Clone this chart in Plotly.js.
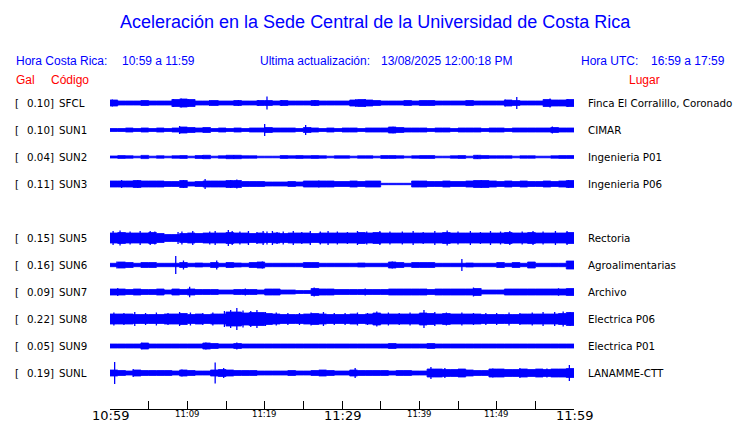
<!DOCTYPE html>
<html>
<head>
<meta charset="utf-8">
<script src="https://cdn.plot.ly/plotly-3.0.1.min.js"></script>
<style>html,body{margin:0;padding:0;background:#fff;}#chart{width:740px;height:423px;}</style>
</head>
<body>
<div id="chart"></div>
<script>
// ---------- DATA ----------
const stationCodes = ['SFCL','SUN1','SUN2','SUN3','SUN5','SUN6','SUN7','SUN8','SUN9','SUNL'];
const galMax = ['0.10','0.10','0.04','0.11','0.15','0.16','0.09','0.22','0.05','0.19'];
const places = ['Finca El Corralillo, Coronado','CIMAR','Ingenieria P01','Ingenieria P06','Rectoria',
  'Agroalimentarias','Archivo','Electrica P06','Electrica P01','LANAMME-CTT'];

// half-amplitude envelope per minute (10:59 -> 11:59), one value per minute
const envSFCL = [3,2,2,2,2.5,2,2,2,3.5,4,3.5,2,2,2.5,2,2,2.5,2,2,2.5,2.5,2,2.5,2,2,2,2.5,2,2,2,2,3,3.5,3,2.5,2,2,2,2.5,2,2.5,2.5,2,2,2,2,2.5,2,2,2,2,3,2.5,2,2,2,3.5,3,3,3.5];
const envSUN1 = [1.5,1.5,2,1.5,2,1.5,2,1.5,2,3,2.5,2,2.5,1.5,2,1.5,2,1.5,2,2,2.5,2,2,2,1.5,2.5,2,1.5,2,1.5,2,2,1.5,2,2,2,3,2.5,2,2,2,1.5,2,2,1.5,2,2,2,1.5,2,2,1.5,2,2,2,2,2,2.5,2,2];
const envSUN2 = [1,1.4,1.2,0.8,1.6,0.8,1.2,0.8,1.2,1.4,0.8,1.4,1.7,0.8,1.2,1.7,1.7,1.2,1.2,0.8,0.8,0.8,1.4,1.2,1.4,1.2,1.4,1.2,0.8,1.2,1.2,0.8,1.2,1.2,0.8,1.4,1.4,1.2,0.8,1.2,1.4,1.4,0.8,0.8,1.2,1.4,0.8,1.7,1.4,1.2,1.2,1.2,0.8,1.2,1.2,0.8,0.8,1.2,1.4,1.4];
const envSUN3 = [3,3,3,3.5,3,3,3,2.5,2.5,3.5,2,2.5,3,3,3,3.5,3.5,2.5,2.5,2.5,2,2,2,2.5,2,3,3,3,3,2.5,2.5,3,2.5,3,3,0.7,0.7,0.7,0.7,3,3,2.5,2.5,3,2.5,2.5,3,3.5,3.5,3,2.5,3,2.5,3,2.5,2.5,3,2.5,3,3.5];
const envSUN5 = [5,5.5,5,5,5,5.5,4.5,3.5,3.5,4.5,5,4.5,5,5,5,5.5,5,5,4.5,5,4.5,5,4.5,5,5,5,4.5,5,5,5,5,5,5.5,5,5.5,5,5,5,5,5,5,5,5,5.5,5,5,5,5,5,5,5,5.5,5,5,5.5,5,5,5,5,5.5];
const envSUN6 = [1.7,3,2.5,1.7,2.5,2.5,1.7,1.7,1.7,2.5,1.7,2,1.7,2.5,1.7,2.5,2,1.7,2.5,3,1.7,1.7,1.7,1.7,1.7,2.5,2.5,1.7,1.7,1.7,1.7,1.7,2,1.7,1.7,1.7,3,2.5,1.7,2.5,2.5,2.5,1.7,1.7,1.7,1.7,2,1.7,1.7,1.7,2.5,1.7,2.5,1.7,3,1.7,1.7,1.7,1.7,4];
const envSUN7 = [3,3,2.5,3,2.5,2.5,3,2,3,2.5,3,2.5,2.5,2.5,2,2,2.5,2.5,2.5,2,3,3,2,2,1.5,1.5,3.5,3,3,2.5,2.5,2.5,2.5,2.5,2.5,2.5,3,3,3,3,3,2.5,3,3,3,3,3,3.5,2,2,2,3,3,3,3,3,3,3,3,3.5];
const envSUN8 = [5,5,5,4.5,4.5,4.5,4.5,5,5,5.5,4.5,5,4.5,5,5,7,7,6,6.5,6.5,5.5,5,4.5,4.5,4.5,5,5.5,5,4.5,4.5,4.5,5,4.5,5,6,5,5,5,5,5,6,5.5,5,5.5,5,5,5,5,4.5,4.5,4.5,4.5,4.5,5,5,5,5,5,5.5,6.5];
const envSUN9 = [2,2,2,2,3,2,2,2,2,2,2,2,3,2.5,2,2,2.5,2,2,2,2,2,2,2,2,2,2,2,2,2,2,2,2,2,2,2,2.5,2,2,2,2,2.5,2,2,2,2,2,2,2,2,2,2,2,2,2,2,2,2,2,2];
const envSUNL = [3,2.5,2,3,2.5,2.5,2.5,2.5,2,3,2.5,2,2,3,3.5,3,2.5,2.5,2.5,2,2,2,2,2.5,2,2,2.5,3,2.5,2,2,3,2.5,2.5,2.5,2.5,2,2.5,2.5,2,2,4,4,3.5,3.5,4,3,2.5,2.5,4,4,3.5,3.5,4,3.5,4,3.5,4,4,4.5];

// isolated spikes: time (minutes after 10:59) and half-amplitude
const spkTimeSFCL = [0.3,8.2,9.2,10.1,12.9,16.6,19.2,20.3,22.2,26.5,31.8,33.0,51.1,52.6,56.9,59.2];
const spkAmpSFCL  = [3.5,4,4.5,4,3,3,3,6.5,3,3,4,4,3.5,6,4.5,4];
const spkTimeSUN1 = [9.0,20.0,25.3,36.6,57.2],  spkAmpSUN1 = [4,6,5,3.2,3.5];
const spkTimeSUN2 = [12.0,16.0,47.5],           spkAmpSUN2 = [2,2,2];
const spkTimeSUN3 = [1.5,3.6,9.5,12.3,15.6,16.4,27.0,48.0,59.3];
const spkAmpSUN3  = [4,4,4,5,4,4.5,3.5,4,4];
const spkTimeSUN5 = [0.4,1.3,2.6,3.9,5.2,5.8,8.8,9.3,10.7,12.9,13.6,15.3,15.8,16.8,17.9,19.0,19.8,20.3,21.0,21.6,
  22.4,23.7,24.8,25.9,27.2,28.2,29.4,30.7,32.0,33.2,34.9,36.2,37.8,39.2,40.5,42.0,43.6,45.0,46.6,47.9,49.2,50.5,51.7,53.3,54.7,56.0,57.6,59.1];
const spkAmpSUN5  = [7,7.5,6.5,7,7,6.5,6,6.5,7,6.5,7,8,7,6.5,7,6,7,6.5,7,6,
  6.5,7,6,7,6.5,7,6.5,6,7,6.5,7,6.5,6.5,7,6,7,7.5,6.5,7,6,7,6.5,7,6.5,7,6.5,7,7];
const spkTimeSUN6 = [0.9,8.5,9.5,13.8,19.7,36.5,45.5,54.6,59.4], spkAmpSUN6 = [3.5,9,4.5,4.5,3.5,3.5,6,3,4];
const spkTimeSUN7 = [1.0,10.3,17.5,26.4,33.0,47.0,58.0],  spkAmpSUN7 = [4,5.3,3.5,4.5,3.5,4.5,3.8];
const spkTimeSUN8 = [0.5,1.8,3.2,4.6,6.0,7.5,9.0,10.4,12.0,13.3,14.8,15.6,16.4,17.2,18.2,19.0,20.1,21.5,23.0,24.5,26.0,27.6,
  29.0,30.4,32.0,33.3,34.5,36.0,37.4,38.8,40.6,42.0,43.5,45.5,47.0,48.6,50.0,51.6,53.0,54.6,56.0,57.5,58.6,59.5];
const spkAmpSUN8  = [6.5,6,7,6,6.5,6,7,6.5,6,6.5,8,9,11,8.5,8,9,7,6.5,6,6,6.5,7,
  6,6,6.5,6,7.5,6.5,6,6.5,9,7,6.5,6.5,6,6,6,6.5,6,6.5,7,7,7.5,7];
const spkTimeSUN9 = [4.1,12.4,16.4],            spkAmpSUN9 = [3.2,3.5,3.5];
const spkTimeSUNL = [0.6,3.0,9.3,13.6,14.7,31.7,41.5,43.3,49.5,53.0,56.5,59.4], spkAmpSUNL = [11,4,3.5,10.5,5,5,6,5,4.5,5,4.5,8];

const tickMinutes = [0,5,10,15,20,25,30,35,40,45,50,55,60];
const tickLabels  = ['10:59','','11:09','','11:19','','11:29','','11:39','','11:49','','11:59'];
const bigLabels   = ['10:59','11:29','11:59'];

const envelopes = [envSFCL,envSUN1,envSUN2,envSUN3,envSUN5,envSUN6,envSUN7,envSUN8,envSUN9,envSUNL];
const spikeTimes = [spkTimeSFCL,spkTimeSUN1,spkTimeSUN2,spkTimeSUN3,spkTimeSUN5,spkTimeSUN6,spkTimeSUN7,spkTimeSUN8,spkTimeSUN9,spkTimeSUNL];
const spikeAmps  = [spkAmpSFCL,spkAmpSUN1,spkAmpSUN2,spkAmpSUN3,spkAmpSUN5,spkAmpSUN6,spkAmpSUN7,spkAmpSUN8,spkAmpSUN9,spkAmpSUNL];

// ---------- LAYOUT HELPERS ----------
const BLUE = '#0000ff';
const PL = 110, PR = 574, PT = 88, PB = 409;
const rowSlot = [0,1,2,3,5,6,7,8,9,10];   // SUN4 row left empty
const rowTop = 103, rowGap = 27;
function rowCenter(i){ return rowTop + rowSlot[i]*rowGap; }
function px(x){ return (x-PL)/(PR-PL); }
function py(y){ return (PB-y)/(PB-PT); }
function note(x,y,text,opt){
  return Object.assign({xref:'paper',yref:'paper',x:px(x),y:py(y),text:text,showarrow:false,
    xanchor:'left',yanchor:'middle',borderpad:0,
    font:{family:'DejaVu Sans',size:10.3,color:'#000'}},opt||{});
}

const traces = [];
envelopes.forEach((env,i)=>{
  const c = rowCenter(i);
  const xs = env.map((_,k)=>k).concat([env.length]);
  const full = env.concat([env[env.length-1]]);
  traces.push({x:xs,y:full.map(a=>c+a),mode:'lines',line:{shape:'hv',width:0.8,color:BLUE},hoverinfo:'skip',showlegend:false});
  traces.push({x:xs,y:full.map(a=>c-a),mode:'lines',line:{shape:'hv',width:0.8,color:BLUE},fill:'tonexty',fillcolor:BLUE,hoverinfo:'skip',showlegend:false});
  const sx=[], sy=[];
  spikeTimes[i].forEach((t,k)=>{ sx.push(t,t,null); sy.push(c-spikeAmps[i][k],c+spikeAmps[i][k],null); });
  traces.push({x:sx,y:sy,mode:'lines',line:{width:1.3,color:BLUE},hoverinfo:'skip',showlegend:false});
});

const annotations = [];
annotations.push(note(375,22,'Aceleración en la Sede Central de la Universidad de Costa Rica',
  {xanchor:'center',font:{family:'Liberation Sans',size:18,color:BLUE}}));
const infoFont = {family:'Liberation Sans',size:12,color:BLUE};
annotations.push(note(15,61,'Hora Costa Rica:',{font:infoFont}));
annotations.push(note(121,61,'10:59 a 11:59',{font:infoFont}));
annotations.push(note(259,61,'Ultima actualización:',{font:infoFont}));
annotations.push(note(380,61,'13/08/2025 12:00:18 PM',{font:infoFont}));
annotations.push(note(580,61,'Hora UTC:',{font:infoFont}));
annotations.push(note(650,61,'16:59 a 17:59',{font:infoFont}));
const redFont = {family:'Liberation Sans',size:12,color:'#ff0000'};
annotations.push(note(15,80,'Gal',{font:redFont}));
annotations.push(note(50,80,'Código',{font:redFont}));
annotations.push(note(628,80,'Lugar',{font:redFont}));

stationCodes.forEach((code,i)=>{
  const c = rowCenter(i);
  annotations.push(note(14,c,'['));
  annotations.push(note(55,c,galMax[i]+']',{xanchor:'right'}));
  annotations.push(note(58,c,code));
  annotations.push(note(587,c,places[i]));
});

// time labels under the axis (big ones every 30 min, small ones between)
tickMinutes.forEach((m,k)=>{
  const t = tickLabels[k];
  if(!t) return;
  const big = bigLabels.indexOf(t)>=0;
  annotations.push({xref:'x',yref:'paper',x:m,y:py(big?415:414),text:t,showarrow:false,
    xanchor:'center',yanchor:'middle',borderpad:0,
    font:{family:'DejaVu Sans',size:big?13:8.5,color:'#000'}});
});

const layout = {
  width:740,height:423,
  margin:{l:PL,r:740-PR,t:PT,b:423-PB,pad:0},
  paper_bgcolor:'#fff',plot_bgcolor:'#fff',
  showlegend:false,
  xaxis:{range:[0,60],tickmode:'array',tickvals:tickMinutes,showticklabels:false,
    ticks:'inside',ticklen:8,tickwidth:1,tickcolor:'#000',showline:true,linecolor:'#000',linewidth:1,
    showgrid:false,zeroline:false,fixedrange:true},
  yaxis:{range:[PB,PT],visible:false,fixedrange:true},
  annotations:annotations
};
Plotly.newPlot('chart',traces,layout,{displayModeBar:false,staticPlot:true});
</script>
</body>
</html>
